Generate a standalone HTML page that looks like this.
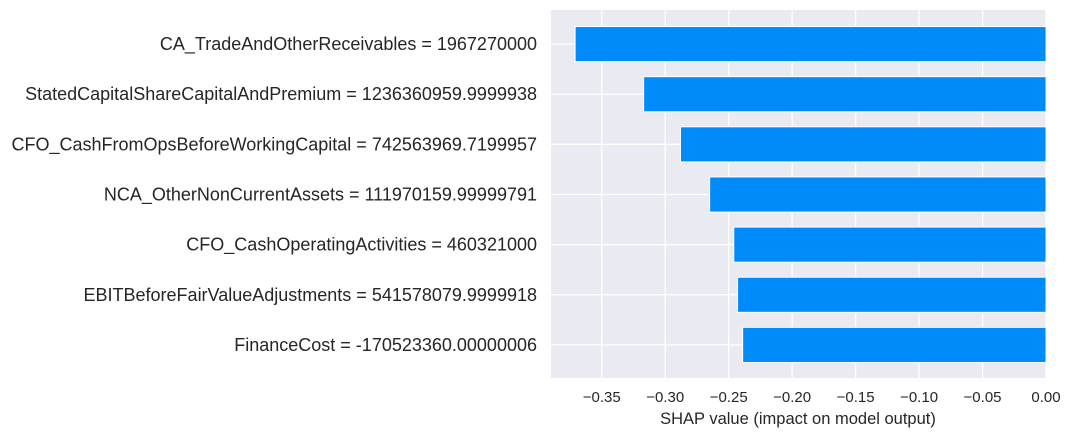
<!DOCTYPE html>
<html><head><meta charset="utf-8"><style>
body{margin:0;background:#fff;}
svg{display:block;font-family:"Liberation Sans",Arial,sans-serif;}
</style></head><body>
<svg id="chart" width="1071" height="437"></svg>
<script>
const features=["CA_TradeAndOtherReceivables = 1967270000","StatedCapitalShareCapitalAndPremium = 1236360959.9999938","CFO_CashFromOpsBeforeWorkingCapital = 742563969.7199957","NCA_OtherNonCurrentAssets = 111970159.99999791","CFO_CashOperatingActivities = 460321000","EBITBeforeFairValueAdjustments = 541578079.9999918","FinanceCost = -170523360.00000006"];
const shapValues=[-0.371,-0.317,-0.288,-0.265,-0.246,-0.243,-0.239];
const xTicks=[-0.35,-0.30,-0.25,-0.20,-0.15,-0.10,-0.05,0.00];
const xTickLabels=["\u22120.35","\u22120.30","\u22120.25","\u22120.20","\u22120.15","\u22120.10","\u22120.05","0.00"];

const NS="http://www.w3.org/2000/svg";
const svg=document.getElementById('chart');
const L=551,R=1046,T=10,B=378;
const xMin=-0.39,xMax=0;
const yMin=-0.68,yMax=features.length-1+0.66;
function xs(v){return L+(v-xMin)/(xMax-xMin)*(R-L);}
function ys(i){return T+(i-yMin)/(yMax-yMin)*(B-T);}
function mk(tag,attrs,parent){const e=document.createElementNS(NS,tag);for(const k in attrs)e.setAttribute(k,attrs[k]);(parent||svg).appendChild(e);return e;}

const bg=mk('rect',{x:L,y:T,width:R-L,height:B-T,fill:'#eaeaf2'});



xTicks.forEach((t,i)=>{
  const g=mk('line',{x1:xs(t),x2:xs(t),y1:T,y2:B,stroke:'#fff','stroke-width':1.3});
  
  
  const tl=mk('text',{x:xs(t),y:B+24,'text-anchor':'middle','font-size':15,fill:'#262626'});
  tl.textContent=xTickLabels[i];
  
  
});
features.forEach((f,i)=>{
  const g=mk('line',{x1:L,x2:R,y1:ys(i),y2:ys(i),stroke:'#fff','stroke-width':1.3});
  
  
});
const bh=(ys(1)-ys(0))*0.7;
features.forEach((f,i)=>{
  const v=shapValues[i];
  const x0=xs(Math.min(v,0)),x1=xs(Math.max(v,0));
  const r=mk('rect',{x:x0,y:ys(i)-bh/2,width:x1-x0,height:bh,fill:'#008bfb',stroke:'#fff','stroke-width':1});
  
  
  const t=mk('text',{x:537,y:ys(i)+6,'text-anchor':'end','font-size':18,fill:'#262626'});
  t.textContent=f;
  
  
});
const xt=mk('text',{x:798,y:424,'text-anchor':'middle','font-size':16.5,fill:'#262626'});
xt.textContent='SHAP value (impact on model output)';


</script>
</body></html>
